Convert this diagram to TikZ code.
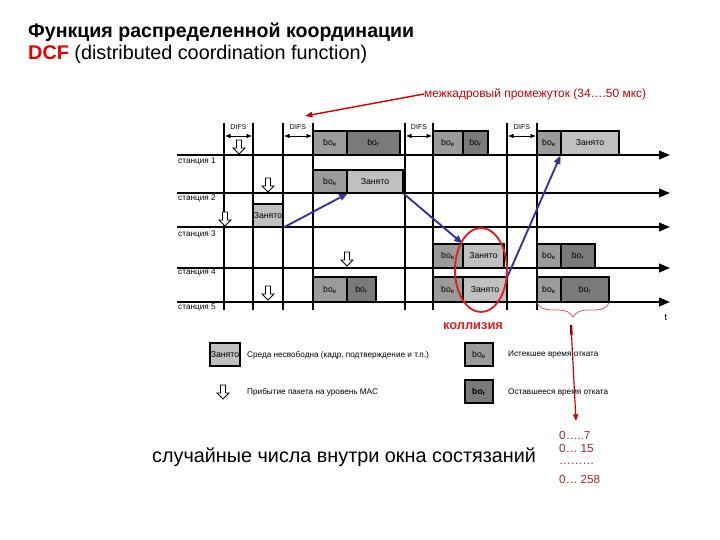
\documentclass[tikz,border=0pt]{standalone}
\usepackage{fontspec}
\setmainfont{Liberation Sans}
\usetikzlibrary{arrows.meta,decorations.pathreplacing,fit,shapes.geometric}
\definecolor{boeC}{RGB}{155,155,155}
\definecolor{borC}{RGB}{122,122,122}
\definecolor{busyC}{RGB}{192,192,192}
\definecolor{navyC}{RGB}{51,51,153}
\definecolor{annC}{RGB}{204,0,0}
\definecolor{collC}{RGB}{225,30,30}
\definecolor{numC}{RGB}{165,40,40}
\definecolor{braceC}{RGB}{220,90,90}
\definecolor{dcfC}{RGB}{230,0,0}
\definecolor{stubC}{RGB}{140,0,0}
\begin{document}
\begin{tikzpicture}[x=0.03cm,y=-0.03cm,
  stline/.style={line width=1.6pt,-{Triangle[length=0.33cm,width=0.26cm]}},
  vline/.style={line width=1.6pt},
  celltxt/.style={font=\fontsize{7.4}{8}\selectfont,inner sep=0pt},
  cell/.style={draw=black,line width=0.9pt,inner sep=0pt},
  boecell/.style={cell,fill=boeC},
  borcell/.style={cell,fill=borC},
  busycell/.style={cell,fill=busyC},
  stlabel/.style={anchor=west,font=\fontsize{7}{8}\selectfont,inner sep=0pt},
  difslbl/.style={font=\fontsize{6}{7}\selectfont,inner sep=0pt},
  difsarrow/.style={line width=0.5pt,{Triangle[length=0.15cm,width=0.12cm]}-{Triangle[length=0.15cm,width=0.12cm]}},
  bluearrow/.style={navyC,line width=1.6pt,-{Triangle[length=0.25cm,width=0.2cm]}},
  inarrow/.pic={\draw[fill=white,line width=0.8pt] (-2.5,0) -- (2.5,0) -- (2.5,8) -- (6,8) -- (0,14) -- (-6,8) -- (-2.5,8) -- cycle;},
  legtext/.style={anchor=west,font=\fontsize{7}{8}\selectfont,inner sep=0pt},
  numtext/.style={anchor=west,font=\fontsize{10}{12}\selectfont,text=numC,inner sep=0pt},
]
\useasboundingbox (0,0) rectangle (720,540);

% title
\node[anchor=west,inner sep=0pt,font=\bfseries\fontsize{16.7}{19}\selectfont] (title) at (28,32) {Функция распределенной координации};
\node[anchor=west,inner sep=0pt,font=\fontsize{16.9}{19}\selectfont] (subtitle) at (28,54) {\textcolor{dcfC}{\textbf{DCF}} (distributed coordination function)};

% annotation
\node[anchor=west,inner sep=0pt,text=annC,font=\fontsize{10.2}{12}\selectfont] (ann) at (424,94) {межкадровый промежуток (34….50 мкс)};
\coordinate (annend) at (305,116);
\draw[annC,line width=1.2pt,-{Triangle[length=0.22cm,width=0.16cm]}] (ann.west) -- (annend);

% vertical lines
\foreach \x in {224,253,283,313,405,433,507,537} {
  \draw[vline] (\x,123) -- (\x,310);
}
% DIFS
\foreach \a/\b [count=\i] in {224/253,283/313,405/433,507/537} {
  \node[difslbl] (difs\i) at ({(\a+\b)/2},127) {DIFS};
  \draw[difsarrow] (\a+1.5,136) -- (\b-1.5,136);
}

% station lines
\foreach \y/\n in {155/1,193/2,227/3,268/4,302/5} {
  \coordinate (ls\n) at (177,\y);
  \coordinate (le\n) at (670,\y);
  \draw[stline] (ls\n) -- (le\n);
}
\node[stlabel] (st1) at (178,161) {станция 1};
\node[stlabel] (st2) at (178,198) {станция 2};
\node[stlabel] (st3) at (178,234) {станция 3};
\node[stlabel] (st4) at (178,272) {станция 4};
\node[stlabel] (st5) at (178,307) {станция 5};
\node[inner sep=0pt,font=\fontsize{8}{9}\selectfont] (tlabel) at (666,318) {t};

% boxes
% station 1
\node[boecell,fit={(313,131) (347,155)},label={[celltxt]center:bo\textsubscript{e}}] (s1a) {};
\node[borcell,fit={(347,131) (400,155)},label={[celltxt]center:bo\textsubscript{r}}] (s1b) {};
\node[boecell,fit={(433,131) (463,155)},label={[celltxt]center:bo\textsubscript{e}}] (s1c) {};
\node[borcell,fit={(463,131) (488,155)},label={[celltxt]center:bo\textsubscript{r}}] (s1d) {};
\node[boecell,fit={(537,131) (561,155)},label={[celltxt]center:bo\textsubscript{e}}] (s1e) {};
\node[busycell,fit={(561,131) (619,155)},label={[celltxt]center:Занято}] (s1f) {};
% station 2
\node[boecell,fit={(313,170) (347,193)},label={[celltxt]center:bo\textsubscript{e}}] (s2a) {};
\node[busycell,fit={(347,170) (403,193)},label={[celltxt]center:Занято}] (s2b) {};
% station 3
\node[busycell,fit={(253,204) (283,227)},label={[celltxt]center:Занято}] (s3a) {};
% station 4
\node[boecell,fit={(433,244) (463,268)},label={[celltxt]center:bo\textsubscript{e}}] (s4a) {};
\node[busycell,fit={(463,244) (504,268)},label={[celltxt]center:Занято}] (s4b) {};
\node[boecell,fit={(537,244) (561,268)},label={[celltxt]center:bo\textsubscript{e}}] (s4c) {};
\node[borcell,fit={(561,244) (595,268)},label={[celltxt]center:bo\textsubscript{r}}] (s4d) {};
% station 5
\node[boecell,fit={(313,277) (347,302)},label={[celltxt]center:bo\textsubscript{e}}] (s5a) {};
\node[borcell,fit={(347,277) (376,302)},label={[celltxt]center:bo\textsubscript{r}}] (s5b) {};
\node[boecell,fit={(433,277) (463,302)},label={[celltxt]center:bo\textsubscript{e}}] (s5c) {};
\node[busycell,fit={(463,277) (507,302)},label={[celltxt]center:Занято}] (s5d) {};
\node[boecell,fit={(537,277) (561,302)},label={[celltxt]center:bo\textsubscript{e}}] (s5e) {};
\node[borcell,fit={(561,277) (609,302)},label={[celltxt]center:bo\textsubscript{r}}] (s5f) {};

% packet arrivals
\pic at (239,140) {inarrow};
\pic at (268,178) {inarrow};
\pic at (225,212) {inarrow};
\pic at (347,252) {inarrow};
\pic at (268,286) {inarrow};

% blue arrows
\draw[bluearrow] (s3a.south east) -- (s2a.south east);
\draw[bluearrow] (s2b.south east) -- (s4b.north west);
\draw[bluearrow] (s5d.north east) -- (s1f.south west);

% collision ellipse
\node[draw=collC,ellipse,line width=1.6pt,inner sep=0pt,minimum width=1.56cm,minimum height=2.52cm] (coll) at (481,270) {};
\node[inner sep=0pt,text=collC,font=\bfseries\fontsize{11}{13}\selectfont] (colltext) at (473,326) {коллизия};

% legend
\node[busycell,line width=1.5pt,fit={(210,343) (240,366)},label={[celltxt]center:Занято}] (lg1) {};
\node[legtext] (lg1t) at (247,355) {Среда несвободна (кадр, подтверждение и т.п.)};
\pic at (223,385) {inarrow};
\node[legtext] (lg2t) at (247,392) {Прибытие пакета на уровень MAC};
\node[boecell,line width=1.2pt,fit={(465,343) (493,366)},label={[celltxt]center:bo\textsubscript{e}}] (lg3) {};
\node[legtext] (lg3t) at (508,355) {Истекшее время отката};
\node[borcell,line width=1.2pt,fit={(465,380) (493,403)},label={[celltxt,font=\bfseries\fontsize{7.4}{8}\selectfont]center:bo\textsubscript{r}}] (lg4) {};
\node[legtext] (lg4t) at (508,392) {Оставшееся время отката};

% brace and red arrow
\draw[braceC,line width=0.7pt,decorate,decoration={brace,mirror,amplitude=0.42cm}] (537,303) -- (609,303);
\coordinate (arrtop) at (571,325);
\coordinate (arrbot) at (576,421);
\draw[annC,line width=1pt,-{Triangle[length=0.2cm,width=0.15cm]}] (arrtop) -- (arrbot);
\draw[stubC,line width=2pt] (571,325) -- (571.5,335);

% bottom texts
\node[anchor=west,inner sep=0pt,font=\fontsize{16.9}{19}\selectfont] (big) at (152,457) {случайные числа внутри окна состязаний};
\node[numtext] (n1) at (559,435) {0…..7};
\node[numtext] (n2) at (559,448) {0… 15};
\node[numtext] (n3) at (559,464) {………};
\node[numtext] (n4) at (559,479) {0… 258};
\end{tikzpicture}
\end{document}
